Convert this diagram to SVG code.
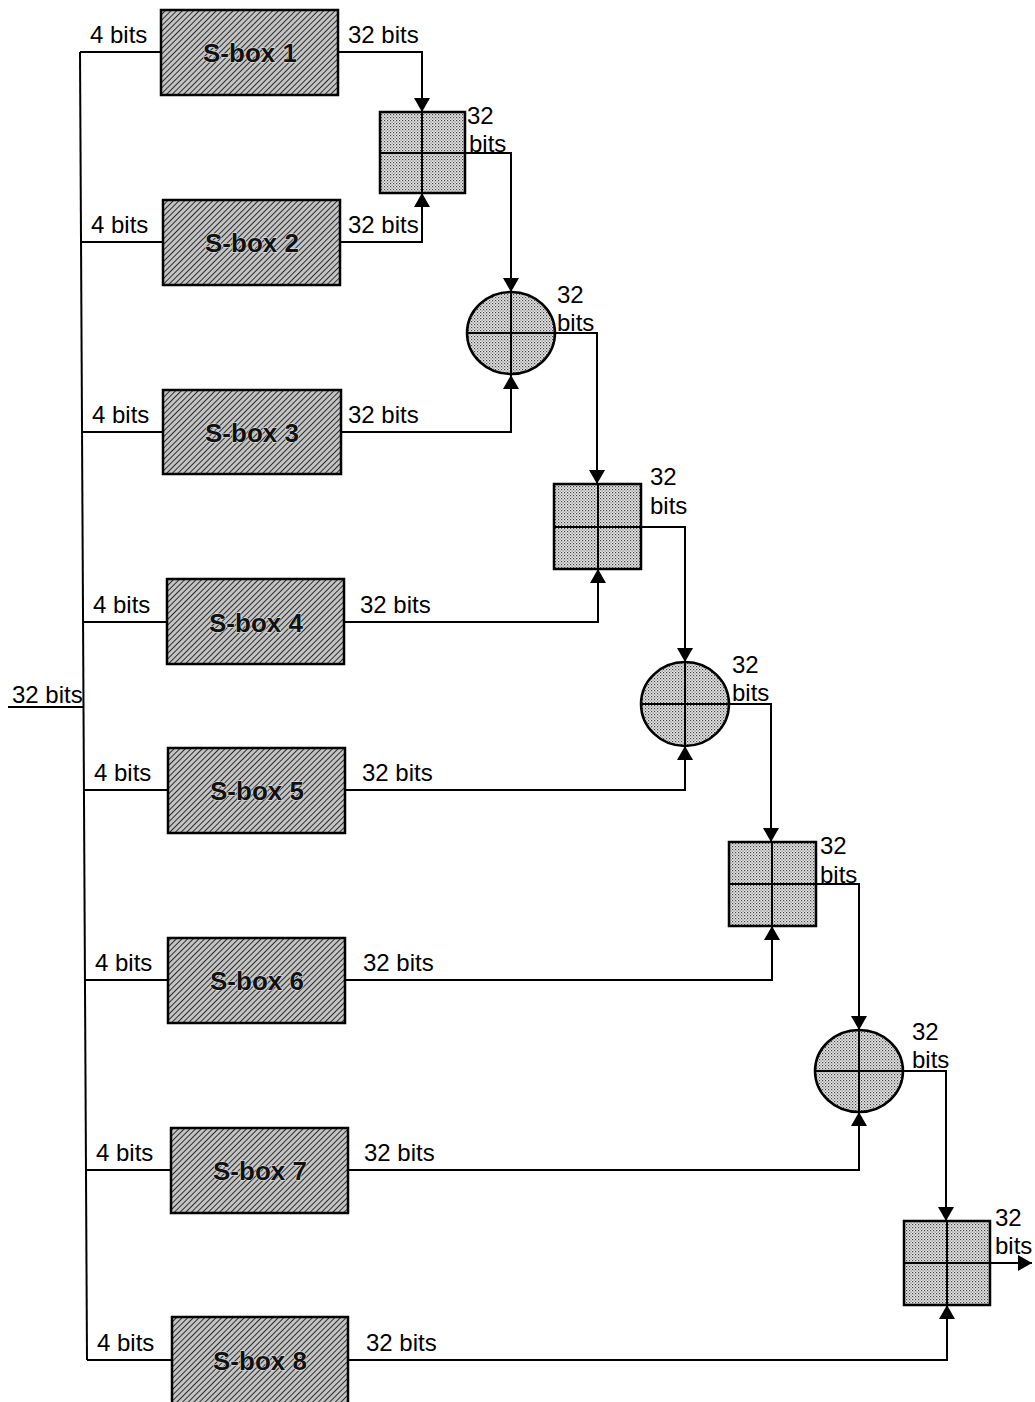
<svg xmlns="http://www.w3.org/2000/svg" width="1035" height="1402" viewBox="0 0 1035 1402">
<defs>
<pattern id="hatch" width="4" height="4" patternUnits="userSpaceOnUse" patternTransform="rotate(45)">
<rect width="4" height="4" fill="#c4c4c4"/>
<line x1="0" y1="0" x2="0" y2="4" stroke="#1a1a1a" stroke-width="1.8"/>
</pattern>
<pattern id="dots" width="3" height="3" patternUnits="userSpaceOnUse">
<rect width="3" height="3" fill="#e6e6e6"/>
<rect x="0" y="0" width="1.2" height="1.2" fill="#444"/>
<rect x="1.5" y="1.5" width="1.2" height="1.2" fill="#777"/>
</pattern>
<marker id="arr" viewBox="0 0 14 16" refX="14" refY="8" markerWidth="14" markerHeight="16" markerUnits="userSpaceOnUse" orient="auto">
<path d="M0,0 L14,8 L0,16 Z" fill="#000"/>
</marker>
</defs>
<style>
.sbox{fill:url(#hatch);stroke:#000;stroke-width:2.5}
.comb{fill:url(#dots);stroke:#000;stroke-width:2.5}
.cross{stroke:#000;stroke-width:2;fill:none}
.st{font-family:"Liberation Sans",Arial,sans-serif;font-weight:bold;font-size:26px;fill:#111;stroke:#e8e8e8;stroke-width:1;paint-order:stroke;text-anchor:middle}
.lb{font-family:"Liberation Sans",Arial,sans-serif;font-size:24px;fill:#000}
.w{stroke:#000;stroke-width:2;fill:none}
.a{stroke:#000;stroke-width:2;fill:none;marker-end:url(#arr)}
</style>
<g id="connectors">
<path class="w" d="M80,52 L87,1360"/>
<path class="w" d="M8,707 H83"/>
<path class="w" d="M80,52 H161"/>
<path class="w" d="M81,242 H163"/>
<path class="w" d="M82,432 H163"/>
<path class="w" d="M83,622 H167"/>
<path class="w" d="M84,790 H168"/>
<path class="w" d="M85,980 H168"/>
<path class="w" d="M86,1170 H171"/>
<path class="w" d="M87,1360 H172"/>
<path class="a" d="M338,52 H422 V112"/>
<path class="a" d="M340,242 H422 V193"/>
<path class="a" d="M465,153 H511 V292"/>
<path class="a" d="M341,432 H511 V375"/>
<path class="a" d="M555,333 H597 V484"/>
<path class="a" d="M344,622 H598 V569"/>
<path class="a" d="M641,527 H685 V662"/>
<path class="a" d="M345,790 H685 V746"/>
<path class="a" d="M729,704 H771 V842"/>
<path class="a" d="M345,980 H772 V926"/>
<path class="a" d="M816,884 H859 V1030"/>
<path class="a" d="M348,1170 H859 V1112"/>
<path class="a" d="M903,1071 H946 V1221"/>
<path class="a" d="M348,1360 H947 V1305"/>
<path class="a" d="M990,1263 H1032"/>
</g>
<text class="lb" x="12" y="703">32 bits</text>
<g id="sbox1"><rect class="sbox" x="161" y="10" width="177" height="85"/><text class="st" x="250" y="62">S-box 1</text><text class="lb" x="90" y="43">4 bits</text><text class="lb" x="348" y="43">32 bits</text></g>
<g id="sbox2"><rect class="sbox" x="163" y="200" width="177" height="85"/><text class="st" x="252" y="252">S-box 2</text><text class="lb" x="91" y="233">4 bits</text><text class="lb" x="348" y="233">32 bits</text></g>
<g id="sbox3"><rect class="sbox" x="163" y="390" width="178" height="84"/><text class="st" x="252" y="442">S-box 3</text><text class="lb" x="92" y="423">4 bits</text><text class="lb" x="348" y="423">32 bits</text></g>
<g id="sbox4"><rect class="sbox" x="167" y="579" width="177" height="85"/><text class="st" x="256" y="632">S-box 4</text><text class="lb" x="93" y="613">4 bits</text><text class="lb" x="360" y="613">32 bits</text></g>
<g id="sbox5"><rect class="sbox" x="168" y="748" width="177" height="85"/><text class="st" x="257" y="800">S-box 5</text><text class="lb" x="94" y="781">4 bits</text><text class="lb" x="362" y="781">32 bits</text></g>
<g id="sbox6"><rect class="sbox" x="168" y="938" width="177" height="85"/><text class="st" x="257" y="990">S-box 6</text><text class="lb" x="95" y="971">4 bits</text><text class="lb" x="363" y="971">32 bits</text></g>
<g id="sbox7"><rect class="sbox" x="171" y="1128" width="177" height="85"/><text class="st" x="260" y="1180">S-box 7</text><text class="lb" x="96" y="1161">4 bits</text><text class="lb" x="364" y="1161">32 bits</text></g>
<g id="sbox8"><rect class="sbox" x="172" y="1317" width="176" height="90"/><text class="st" x="260" y="1370">S-box 8</text><text class="lb" x="97" y="1351">4 bits</text><text class="lb" x="366" y="1351">32 bits</text></g>
<g id="comb1"><rect class="comb" x="380" y="112" width="85" height="81"/><path class="cross" d="M422,112 V193 M380,153 H465"/><text class="lb" x="467" y="124">32</text><text class="lb" x="469" y="152">bits</text></g>
<g id="comb2"><ellipse class="comb" cx="511" cy="333" rx="44" ry="41"/><path class="cross" d="M511,292 V375 M467,333 H555"/><text class="lb" x="557" y="303">32</text><text class="lb" x="557" y="331">bits</text></g>
<g id="comb3"><rect class="comb" x="554" y="484" width="87" height="85"/><path class="cross" d="M598,484 V569 M554,527 H641"/><text class="lb" x="650" y="485">32</text><text class="lb" x="650" y="514">bits</text></g>
<g id="comb4"><ellipse class="comb" cx="685" cy="704" rx="44" ry="42"/><path class="cross" d="M685,662 V746 M641,704 H729"/><text class="lb" x="732" y="673">32</text><text class="lb" x="732" y="701">bits</text></g>
<g id="comb5"><rect class="comb" x="729" y="842" width="87" height="84"/><path class="cross" d="M772,842 V926 M729,884 H816"/><text class="lb" x="820" y="854">32</text><text class="lb" x="820" y="883">bits</text></g>
<g id="comb6"><ellipse class="comb" cx="859" cy="1071" rx="44" ry="41"/><path class="cross" d="M859,1030 V1112 M815,1071 H903"/><text class="lb" x="912" y="1040">32</text><text class="lb" x="912" y="1068">bits</text></g>
<g id="comb7"><rect class="comb" x="904" y="1221" width="86" height="84"/><path class="cross" d="M947,1221 V1305 M904,1263 H990"/><text class="lb" x="995" y="1226">32</text><text class="lb" x="995" y="1254">bits</text></g>
</svg>
